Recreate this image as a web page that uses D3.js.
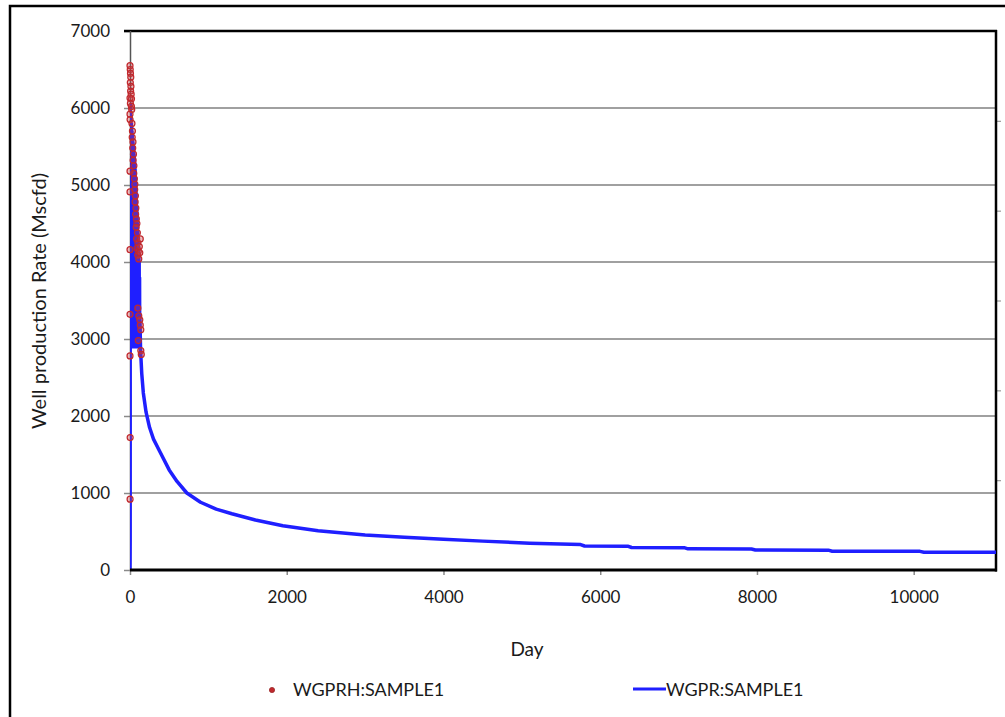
<!DOCTYPE html>
<html><head><meta charset="utf-8">
<script src="https://cdn.jsdelivr.net/npm/d3@7"></script>
<style>
html,body{margin:0;padding:0;background:#fff;}
text{font-family:Lato,"Open Sans",sans-serif;fill:#1a1a1a;}
</style></head>
<body><svg id="c" width="1005" height="717"></svg>
<script>
// ---- data ----
const xTickValues = [0, 2000, 4000, 6000, 8000, 10000];
const yTickValues = [0, 1000, 2000, 3000, 4000, 5000, 6000, 7000];
const xLabel = "Day";
const yLabel = "Well production Rate (Mscfd)";
const seriesNames = ["WGPRH:SAMPLE1", "WGPR:SAMPLE1"];

// historical (observed) points: [day, rate]
const histDays = [0,3,6,10,4,12,8,15,19,0,5,18,22,
  0,1,25,31,28,38,35,44,40,50,0,48,56,
  0,62,60,69,65,75,72,81,88,
  78,94,85,100,0,90,106,98,112,119,125,131,
  0,100,112,125,131,138,106,138,144,0,
  2,1];
const histRates = [6550,6500,6450,6400,6330,6280,6220,6180,6120,6130,6060,6020,5980,
  5920,5850,5800,5700,5620,5560,5480,5400,5320,5250,5180,5150,5080,
  4910,5010,4940,4860,4780,4700,4620,4560,4500,
  4450,4380,4300,4250,4160,4180,4140,4090,4040,4200,4120,4300,
  3320,3400,3300,3250,3180,3120,2980,2850,2800,2780,
  1720,920];

// simulated rate: [day, rate]
const simDays = [0,1,2,3,5,7,10,12,14,16,18,21,23,25,27,29,32,34,36,38,40,43,45,47,49,51,54,56,58,60,62,65,67,69,71,73,76,78,80,82,84,87,89,91,93,95,98,100,102,104,106,109,111,113,115,117,120,122,124,126,
  135,150,170,205,250,300,385,500,600,725,900,1100,1300,1600,1950,2400,3000,3500,4000,4500,5100,5750,5800,6350,6400,7070,7120,7930,7980,8910,8960,10080,10130,11050];
const simRates = [0,150,400,6050,3200,5900,3100,5850,3000,5800,3050,5750,2950,5700,3000,5650,2950,5600,3000,5550,2900,5500,2950,5450,2900,5400,2950,5350,2900,5300,2900,5200,2950,5100,2900,5000,2900,4900,2900,4800,2950,4700,2900,4600,2900,4500,2950,4400,2900,4300,2900,4200,2900,4100,2900,4000,2900,3800,2900,3300,
  2850,2550,2300,2050,1850,1700,1530,1300,1150,1000,880,790,730,650,575,510,455,425,400,375,348,330,312,310,292,290,275,273,260,258,244,242,231,230];

// ---- chart ----
const svg = d3.select("#c");
const L = 130, R = 996, T = 31, B = 570;
const x = d3.scaleLinear().domain([0, 11050]).range([L, R]);
const y = d3.scaleLinear().domain([0, 7000]).range([B, T]);

// outer frame
svg.append("path").attr("d", "M10,717 V6 H1005").attr("fill", "none")
  .attr("stroke", "#000").attr("stroke-width", 2.5);

// gridlines
svg.append("g").selectAll("line").data(yTickValues.filter(v => v > 0 && v < 7000)).join("line")
  .attr("x1", L).attr("x2", R).attr("y1", d => y(d)).attr("y2", d => y(d))
  .attr("stroke", "#808080").attr("stroke-width", 1.5);

// y axis
const yAxis = svg.append("g").attr("transform", `translate(${L},0)`)
  .call(d3.axisLeft(y).tickValues(yTickValues).tickSize(6).tickPadding(14).tickFormat(d3.format("d")));
yAxis.select(".domain").remove();
yAxis.selectAll(".tick line").attr("stroke", "#8a8a8a").attr("stroke-width", 1.5);
yAxis.selectAll(".tick text").attr("font-size", 17).attr("font-family", "Lato,sans-serif").attr("fill", "#1a1a1a");

// x axis
const xAxis = svg.append("g").attr("transform", `translate(0,${B})`)
  .call(d3.axisBottom(x).tickValues(xTickValues).tickSize(5).tickPadding(16).tickFormat(d3.format("d")));
xAxis.select(".domain").remove();
xAxis.selectAll(".tick line").attr("stroke", "#8a8a8a").attr("stroke-width", 1.5);
xAxis.selectAll(".tick text").attr("font-size", 17).attr("font-family", "Lato,sans-serif").attr("fill", "#1a1a1a");

// right minor ticks (secondary axis without labels)
const y2 = d3.scaleLinear().domain([0, 6]).range([B, T]);
const y2Axis = svg.append("g").attr("transform", `translate(${R},0)`)
  .call(d3.axisRight(y2).tickValues([1,2,3,4,5]).tickSize(5).tickFormat(""));
y2Axis.select(".domain").remove();
y2Axis.selectAll(".tick line").attr("stroke", "#9a9a9a").attr("stroke-width", 1.2);

// frame lines
svg.append("line").attr("x1", L - 6).attr("x2", R + 1).attr("y1", T).attr("y2", T)
  .attr("stroke", "#000").attr("stroke-width", 2.5);
svg.append("line").attr("x1", L + 0.5).attr("x2", L + 0.5).attr("y1", T).attr("y2", B)
  .attr("stroke", "#555").attr("stroke-width", 1.5);
svg.append("line").attr("x1", R).attr("x2", R).attr("y1", T - 1).attr("y2", B + 1.5)
  .attr("stroke", "#000").attr("stroke-width", 2.5);

// clip
svg.append("clipPath").attr("id", "pc").append("rect")
  .attr("x", L).attr("y", T - 2).attr("width", R - L).attr("height", B - T + 2);

// simulated line
const simData = simDays.map((d, i) => [d, simRates[i]]);
svg.append("path").datum(simData).attr("clip-path", "url(#pc)")
  .attr("d", d3.line().x(d => x(d[0])).y(d => y(d[1])))
  .attr("fill", "none").attr("stroke", "#1f1fff").attr("stroke-width", 3.5)
  .attr("stroke-linejoin", "round");

// bottom axis line (over the curve)
svg.append("line").attr("x1", L).attr("x2", R + 1).attr("y1", B).attr("y2", B)
  .attr("stroke", "#000").attr("stroke-width", 3);

// historical points
const histData = histDays.map((d, i) => [d, histRates[i]]);
svg.append("g").selectAll("circle").data(histData).join("circle")
  .attr("cx", d => x(d[0])).attr("cy", d => y(d[1])).attr("r", 3)
  .attr("fill", "rgba(200,60,70,0.35)").attr("stroke", "#c0282d").attr("stroke-width", 1.2);

// axis titles
svg.append("text").attr("x", 527).attr("y", 656).attr("text-anchor", "middle")
  .attr("font-size", 19).text(xLabel);
svg.append("text").attr("transform", "translate(46,301) rotate(-90)").attr("text-anchor", "middle")
  .attr("font-size", 20).text(yLabel);

// legend
const lg = svg.append("g");
lg.append("circle").attr("cx", 272).attr("cy", 690).attr("r", 2.6)
  .attr("fill", "#c0282d").attr("stroke", "#9a2a2a").attr("stroke-width", 0.8);
lg.append("text").attr("x", 293).attr("y", 696).attr("font-size", 18).text(seriesNames[0]);
lg.append("line").attr("x1", 633).attr("x2", 666).attr("y1", 689).attr("y2", 689)
  .attr("stroke", "#1f1fff").attr("stroke-width", 3);
lg.append("text").attr("x", 666).attr("y", 696).attr("font-size", 18).text(seriesNames[1]);
</script></body></html>
